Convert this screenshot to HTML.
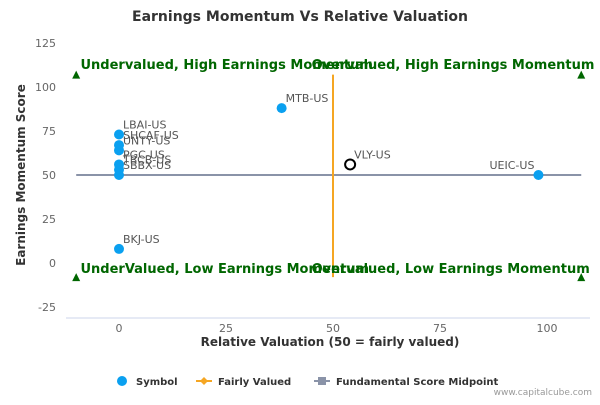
<!DOCTYPE html>
<html><head><meta charset="utf-8"><style>
body{margin:0;background:#fff;font-family:"Liberation Sans",sans-serif}
svg text{font-family:"DejaVu Sans","Liberation Sans",sans-serif}
</style></head><body>
<svg id="c" width="600" height="400">
<text x="300" y="21" text-anchor="middle" font-size="14" font-weight="bold" fill="#333">Earnings Momentum Vs Relative Valuation</text>
<g id="grid"></g><g id="marks"></g>
<text x="330" y="346" text-anchor="middle" font-size="12" font-weight="bold" fill="#333">Relative Valuation (50 = fairly valued)</text>
<text transform="translate(25,175) rotate(-90)" text-anchor="middle" font-size="12" font-weight="bold" fill="#333">Earnings Momentum Score</text>
<g font-size="10" font-weight="bold" fill="#333">
<g><circle cx="122" cy="381" r="5" fill="#0aa0f0"/><text x="136" y="385">Symbol</text></g>
<g><line x1="196" y1="381" x2="212" y2="381" stroke="#f5a623" stroke-width="2"/><path d="M204 377 L208 381 L204 385 L200 381Z" fill="#f5a623"/><text x="218" y="385">Fairly Valued</text></g>
<g><line x1="314" y1="381" x2="330" y2="381" stroke="#8a93a8" stroke-width="2"/><rect x="318" y="377" width="8" height="8" fill="#8a93a8"/><text x="336" y="385">Fundamental Score Midpoint</text></g>
</g>
<text x="592" y="395" text-anchor="end" font-size="9" fill="#999">www.capitalcube.com</text>
</svg>
<script>
const symbols=["LBAI-US","SHCAF-US","UNTY-US","PGC-US","TBCB-US","SBBX-US","BKJ-US","MTB-US","VLY-US","UEIC-US"];
const valuation=[0,0,0,0,0,0,0,38,54,98];
const momentum=[73,67,64,56,53,50,8,88,56,50];
const xTicks=[0,25,50,75,100];
const yTicks=[125,100,75,50,25,0,-25];
const X=v=>119+v*4.28, Y=v=>263-v*1.76;
const NS="http://www.w3.org/2000/svg";
function mk(p,t,a){const e=document.createElementNS(NS,t);for(const k in a)e.setAttribute(k,a[k]);p.appendChild(e);return e;}
const g=document.getElementById('grid'), m=document.getElementById('marks');
const ax=mk(g,'line',{x1:66,x2:590,y1:318,y2:318,stroke:'#ccd6eb'});


xTicks.forEach(v=>{const t=mk(g,'text',{x:X(v),y:332,'text-anchor':'middle','font-size':11,fill:'#666'});t.textContent=v;

});
yTicks.forEach(v=>{const t=mk(g,'text',{x:56,y:Y(v)+4,'text-anchor':'end','font-size':11,fill:'#666'});t.textContent=v;

});
const mid=mk(m,'line',{x1:X(-10),x2:X(108),y1:Y(50),y2:Y(50),stroke:'#8a93a8','stroke-width':2});


const fv=mk(m,'line',{x1:X(50),x2:X(50),y1:Y(107),y2:Y(-8),stroke:'#f5a623','stroke-width':2});


[[-10,107],[108,107],[-10,-8],[108,-8]].forEach(([a,b])=>{const p=mk(m,'path',{d:`M${X(a)-4} ${Y(b)+4} L${X(a)+4} ${Y(b)+4} L${X(a)} ${Y(b)-4}Z`,fill:'#060'});

});
[["Undervalued, High Earnings Momentum",X(-9),69],["Overvalued, High Earnings Momentum",X(45),69],["UnderValued, Low Earnings Momentum",X(-9),273],["Overvalued, Low Earnings Momentum",X(45),273]].forEach(([s,x,y])=>{const t=mk(m,'text',{x:x,y:y,'font-size':13,'font-weight':'bold',fill:'#006600'});t.textContent=s;

});
symbols.forEach((s,i)=>{const hollow=s==="VLY-US";
const c=mk(m,'circle',{cx:X(valuation[i]),cy:Y(momentum[i]),r:hollow?5:5,fill:hollow?'#fff':'#0aa0f0',stroke:hollow?'#000':'none','stroke-width':2});


const right=valuation[i]>90;
const t=mk(m,'text',{x:X(valuation[i])+(right?-4:4),y:Y(momentum[i])-6,'text-anchor':right?'end':'start','font-size':11,fill:'#555'});t.textContent=s;

});
</script>
</body></html>
